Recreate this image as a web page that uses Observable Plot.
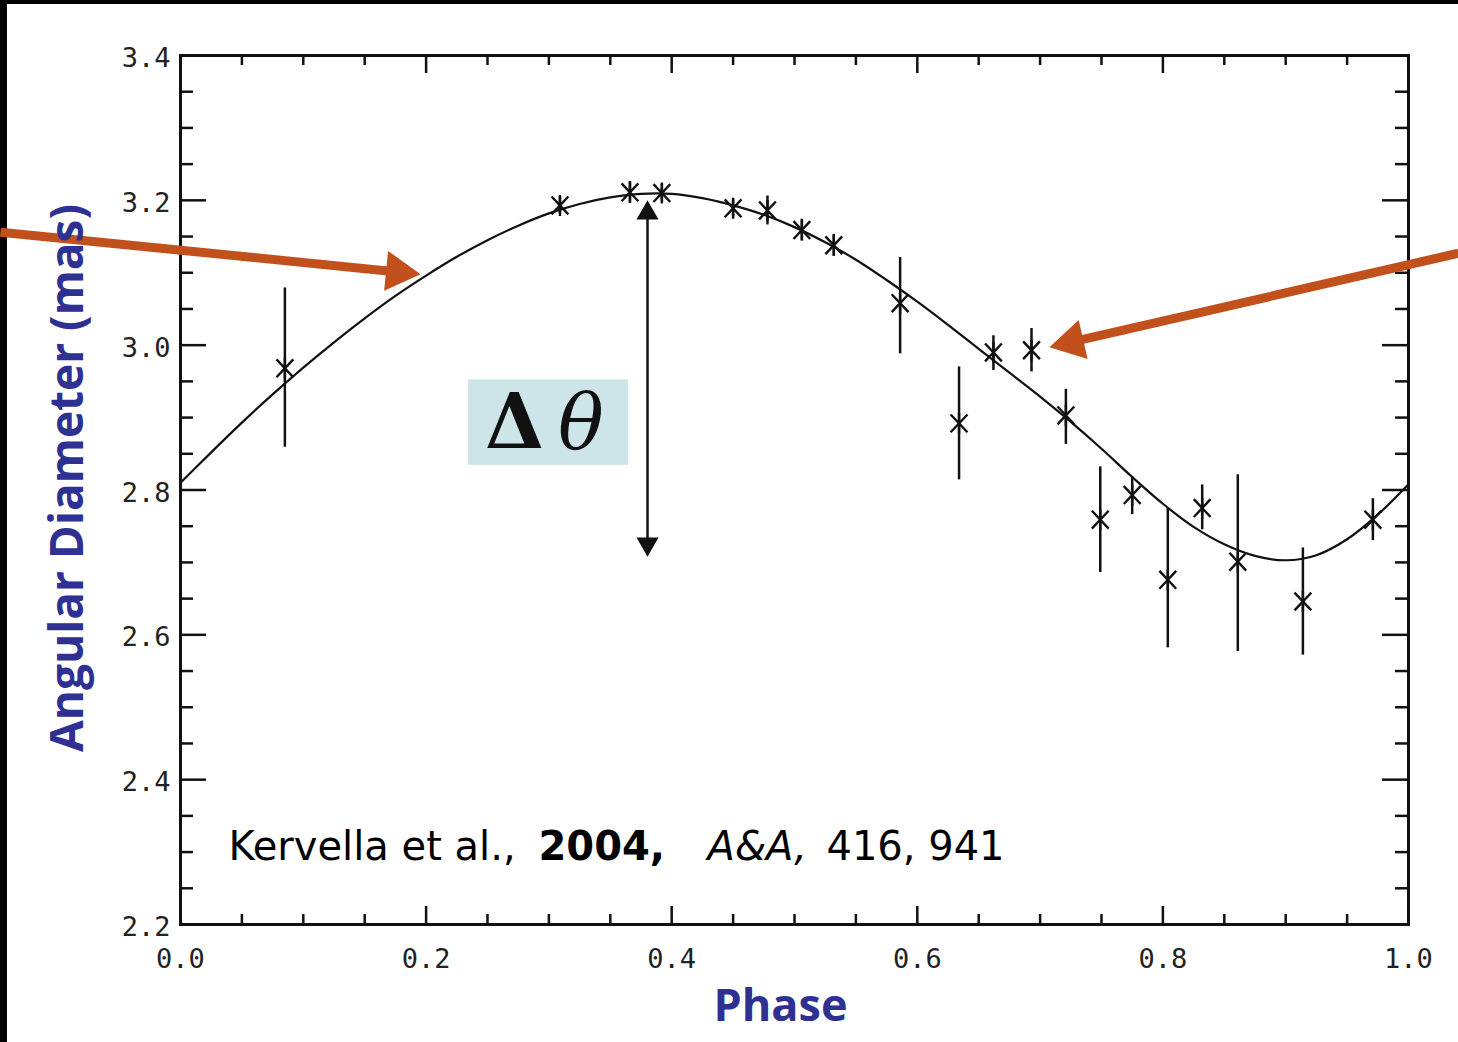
<!DOCTYPE html>
<html><head><meta charset="utf-8">
<script src="https://cdn.jsdelivr.net/npm/d3@7"></script>
<script src="https://cdn.jsdelivr.net/npm/@observablehq/plot@0.6"></script>
<style>
html,body{margin:0;padding:0;background:#000;}
#wrap{position:relative;width:1458px;height:1042px;background:#000;overflow:hidden;}
#chart{position:absolute;left:7px;top:4px;width:1451px;height:1038px;background:#fff;}
</style></head><body><div id="wrap"><div id="chart"></div></div>
<script>
// Observed data (phase, angular diameter in mas, error bar ends)
const phase    = [0.085, 0.309, 0.366, 0.392, 0.450, 0.478, 0.506, 0.532, 0.586, 0.634, 0.662, 0.693, 0.721, 0.749, 0.775, 0.804, 0.832, 0.861, 0.914, 0.971];
const diameter = [2.968, 3.193, 3.211, 3.210, 3.189, 3.186, 3.159, 3.138, 3.058, 2.892, 2.990, 2.993, 2.903, 2.759, 2.793, 2.676, 2.775, 2.701, 2.646, 2.759];
const errLow   = [2.859, 3.181, 3.196, 3.198, 3.177, 3.166, 3.144, 3.123, 2.988, 2.814, 2.965, 2.963, 2.863, 2.686, 2.766, 2.582, 2.745, 2.577, 2.572, 2.730];
const errHigh  = [3.079, 3.205, 3.226, 3.222, 3.201, 3.206, 3.174, 3.153, 3.121, 2.970, 3.013, 3.023, 2.939, 2.832, 2.818, 2.775, 2.807, 2.821, 2.720, 2.788];

// Model curve
const curvePhase = [0.000,0.025,0.050,0.075,0.100,0.125,0.150,0.175,0.200,0.225,0.250,0.275,0.300,0.325,0.350,0.375,0.400,0.425,0.450,0.475,0.500,0.525,0.550,0.575,0.600,0.625,0.650,0.675,0.700,0.725,0.750,0.775,0.800,0.825,0.850,0.875,0.900,0.925,0.950,0.975,1.000];
const curveDiam  = [2.810,2.852,2.893,2.932,2.969,3.004,3.037,3.068,3.096,3.122,3.145,3.165,3.182,3.195,3.204,3.209,3.209,3.203,3.193,3.180,3.163,3.142,3.118,3.090,3.060,3.028,2.995,2.962,2.929,2.894,2.857,2.818,2.781,2.749,2.725,2.709,2.703,2.710,2.732,2.766,2.808];

// Ticks
const xMajor = [0.0, 0.2, 0.4, 0.6, 0.8, 1.0];
const xMinor = [0.05,0.10,0.15,0.25,0.30,0.35,0.45,0.50,0.55,0.65,0.70,0.75,0.85,0.90,0.95];
const yMajor = [2.2, 2.4, 2.6, 2.8, 3.0, 3.2, 3.4];
const yMinor = [2.25,2.30,2.35,2.45,2.50,2.55,2.65,2.70,2.75,2.85,2.90,2.95,3.05,3.10,3.15,3.25,3.30,3.35];

// Texts
const xTitle = [{text: "Phase", x: 0.4886, y: 2.087}];
const yTitle = [{text: "Angular Diameter (mas)", x: -0.0912, y: 2.8166}];
const citationParts = [
  {text: "Kervella et al.,", x: 0.0391, y: 2.307, weight: "normal", style: "normal"},
  {text: "2004,", x: 0.2915, y: 2.307, weight: "bold", style: "normal"},
  {text: "A&A,", x: 0.4292, y: 2.307, weight: "normal", style: "italic"},
  {text: "416, 941", x: 0.526, y: 2.307, weight: "normal", style: "normal"}
];

// Annotations (data coordinates)
const deltaBox = [{x1: 0.2345, x2: 0.3648, y1: 2.834, y2: 2.952}];
const deltaText = [{text: "Δ", x: 0.2720, y: 2.891, weight: "bold", style: "normal"},
                   {text: "θ", x: 0.3260, y: 2.891, weight: "normal", style: "italic"}];
const ampArrow = [{x: 0.3803, y1: 3.19, y2: 2.72}];
const ampHeads = [{x: 0.3803, y: 3.1825, rotate: 0}, {x: 0.3803, y: 2.7255, rotate: 180}];
const orangeShafts = [{x1: -0.1466, y1: 3.156, x2: 0.1768, y2: 3.1011},
                      {x1: 1.0407, y1: 3.127, x2: 0.7259, y2: 3.0044}];
const orangeHeads = [{x: 0.1768, y: 3.1011, rotate: 95.7},
                     {x: 0.7259, y: 3.0044, rotate: 257.06}];

const points = phase.map((p, i) => ({phase: p, d: diameter[i], lo: errLow[i], hi: errHigh[i]}));
const curve = curvePhase.map((p, i) => ({phase: p, d: curveDiam[i]}));

const star = {
  draw(ctx, size) {
    const r = Math.sqrt(size / Math.PI);
    ctx.moveTo(0, -r); ctx.lineTo(0, r);
    ctx.moveTo(-0.8 * r, -0.85 * r); ctx.lineTo(0.8 * r, 0.85 * r);
    ctx.moveTo(-0.8 * r, 0.85 * r); ctx.lineTo(0.8 * r, -0.85 * r);
  }
};

const PH = 869, PW = 1228;
const orange = "#c1501c";
const blue = "#2e3192";
const tickFont = {fontFamily: "DejaVu Sans Mono", fontSize: 27, fill: "#222"};

const chart = Plot.plot({
  width: 1451, height: 1038,
  marginLeft: 173, marginRight: 50, marginTop: 51, marginBottom: 118,
  x: {domain: [0, 1]},
  y: {domain: [2.2, 3.4]},
  style: {background: "white", overflow: "visible"},
  marks: [
    Plot.rect(deltaBox, {x1: "x1", x2: "x2", y1: "y1", y2: "y2", fill: "#cde5e9"}),
    Plot.frame({stroke: "#111", strokeWidth: 3}),
    // inward ticks, four sides
    Plot.tickX(xMajor, {x: d => d, insetTop: PH - 18, stroke: "#111", strokeWidth: 2.5}),
    Plot.tickX(xMinor, {x: d => d, insetTop: PH - 10, stroke: "#111", strokeWidth: 2.5}),
    Plot.tickX(xMajor, {x: d => d, insetBottom: PH - 18, stroke: "#111", strokeWidth: 2.5}),
    Plot.tickX(xMinor, {x: d => d, insetBottom: PH - 10, stroke: "#111", strokeWidth: 2.5}),
    Plot.tickY(yMajor, {y: d => d, insetRight: PW - 26, stroke: "#111", strokeWidth: 2.5}),
    Plot.tickY(yMinor, {y: d => d, insetRight: PW - 13, stroke: "#111", strokeWidth: 2.5}),
    Plot.tickY(yMajor, {y: d => d, insetLeft: PW - 26, stroke: "#111", strokeWidth: 2.5}),
    Plot.tickY(yMinor, {y: d => d, insetLeft: PW - 13, stroke: "#111", strokeWidth: 2.5}),
    Plot.axisX(xMajor, {tickSize: 0, tickPadding: 24, tickFormat: d3.format(".1f"), label: null, ...tickFont}),
    Plot.axisY(yMajor, {tickSize: 0, tickPadding: 10, dy: 3, tickFormat: d3.format(".1f"), label: null, ...tickFont}),
    // model curve
    Plot.line(curve, {x: "phase", y: "d", curve: "catmull-rom", stroke: "#111", strokeWidth: 2.2}),
    // error bars and points
    Plot.ruleX(points, {x: "phase", y1: "lo", y2: "hi", stroke: "#111", strokeWidth: 2.5}),
    Plot.dot(points, {x: "phase", y: "d", symbol: star, r: 10.5, stroke: "#111", strokeWidth: 2.4}),
    // amplitude arrow
    Plot.ruleX(ampArrow, {x: "x", y1: "y1", y2: "y2", stroke: "#111", strokeWidth: 2.5}),
    Plot.dot(ampHeads, {x: "x", y: "y", symbol: "triangle", r: 8.2, fill: "#111", stroke: "none", rotate: "rotate"}),
    ...deltaText.map(c => Plot.text([c], {x: "x", y: "y", text: "text", fontFamily: "DejaVu Serif", fontSize: 76, fill: "#111",
      fontWeight: c.weight, fontStyle: c.style})),
    // citation
    ...citationParts.map(c => Plot.text([c], {x: "x", y: "y", text: "text", textAnchor: "start",
      fontFamily: "DejaVu Sans", fontSize: 40, fontWeight: c.weight, fontStyle: c.style, fill: "#000"})),
    // orange annotation arrows
    Plot.link(orangeShafts, {x1: "x1", y1: "y1", x2: "x2", y2: "y2", stroke: orange, strokeWidth: 9}),
    Plot.dot(orangeHeads, {x: "x", y: "y", symbol: "triangle", r: 14.85, fill: orange, stroke: "none", rotate: "rotate"}),
    // axis titles
    Plot.text(xTitle, {x: "x", y: "y", text: "text", fontFamily: "Open Sans", fontWeight: "bold", fontSize: 45, fill: blue}),
    Plot.text(yTitle, {x: "x", y: "y", text: "text", rotate: -90, fontFamily: "Open Sans", fontWeight: "bold", fontSize: 46, fill: blue})
  ]
});
document.getElementById("chart").appendChild(chart);
</script>
</body></html>
